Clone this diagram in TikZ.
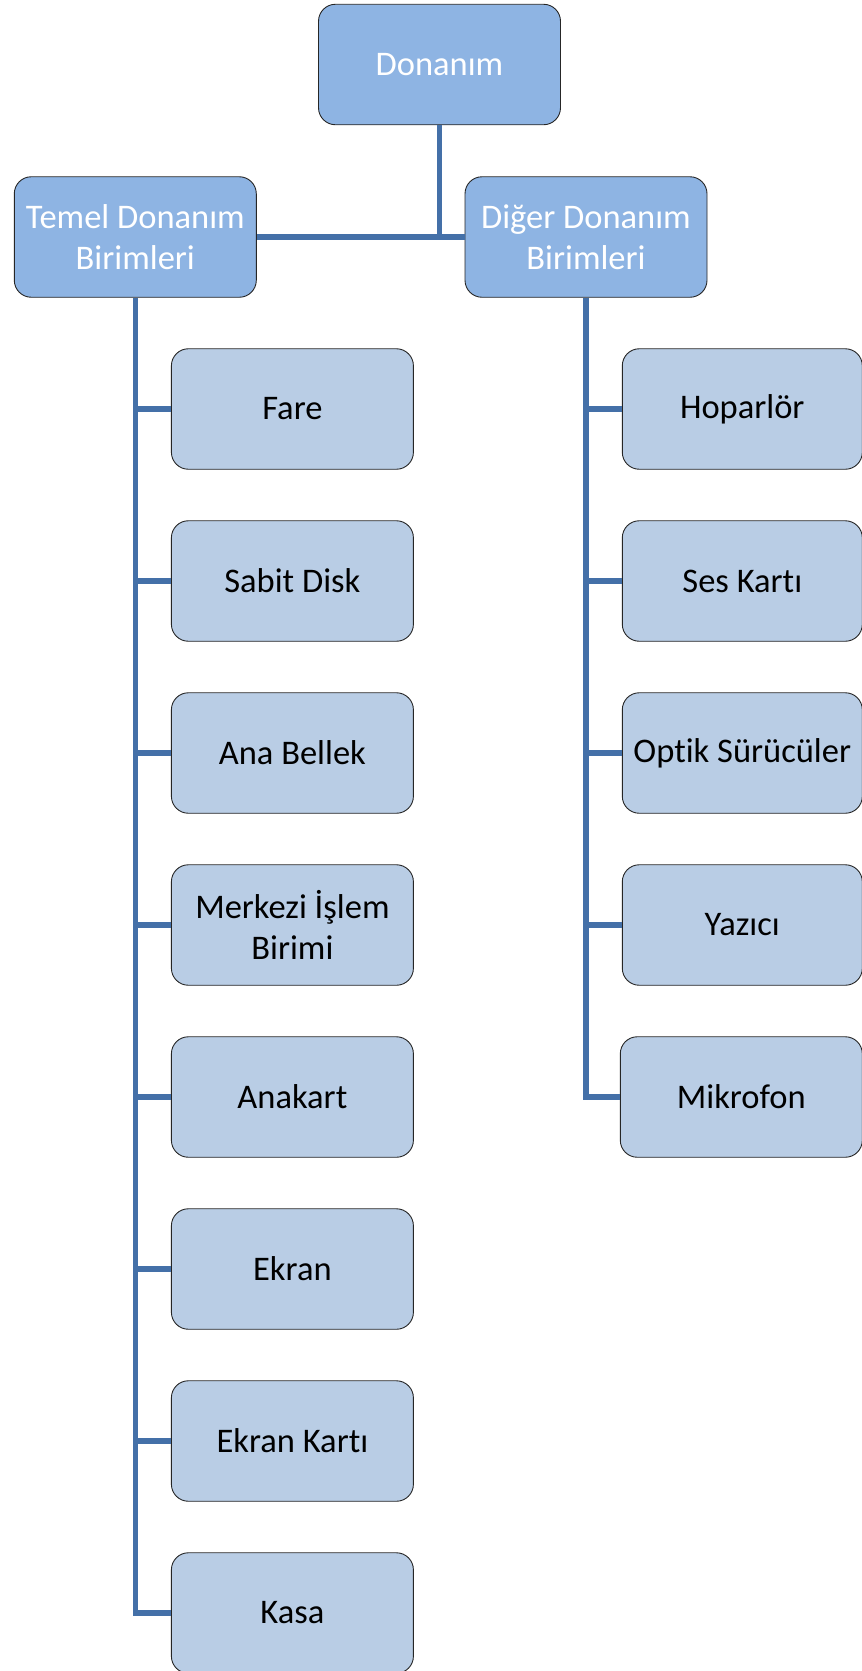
\documentclass[tikz,border=0pt]{standalone}
\usepackage{fontspec}
\setmainfont{Carlito}[Ligatures=NoCommon]
\definecolor{headfill}{HTML}{8EB4E3}
\definecolor{leaffill}{HTML}{B9CDE5}
\definecolor{linkblue}{HTML}{4470A8}

\begin{document}
\begin{tikzpicture}[x=1pt,y=1pt,
    box/.style={draw=black!85, line width=0.9pt, rounded corners=17pt,
        minimum width=242pt, minimum height=120.5pt, inner sep=0pt,
        align=center, font=\fontsize{34.5}{41}\selectfont},
    headbox/.style={box, fill=headfill, text=white},
    leafbox/.style={box, fill=leaffill, text=black},
    link/.style={draw=linkblue, line width=5.5pt}]
    \useasboundingbox (0,0) rectangle (862,-1671);
    % top levels
    \node [headbox] (donanim) at (439.5,-64.5) {Donanım};
    \node [headbox] (temel) at (135.3,-237) {Temel Donanım\\Birimleri};
    \node [headbox] (diger) at (586,-237) {Diğer Donanım\\Birimleri};
    % temel donanim birimleri
    \node [leafbox] (fare) at (292.4,-409) {Fare};
    \node [leafbox] (disk) at (292.4,-581) {Sabit Disk};
    \node [leafbox] (bellek) at (292.4,-753) {Ana Bellek};
    \node [leafbox] (cpu) at (292.4,-925) {Merkezi İşlem\\Birimi};
    \node [leafbox] (anakart) at (292.4,-1097) {Anakart};
    \node [leafbox] (ekran) at (292.4,-1269) {Ekran};
    \node [leafbox] (ekrankarti) at (292.4,-1441) {Ekran Kartı};
    \node [leafbox] (kasa) at (292.4,-1613) {Kasa};
    % diger donanim birimleri
    \node [leafbox, minimum width=240pt] (hoparlor) at (742.3,-409) {Hoparlör};
    \node [leafbox, minimum width=240pt] (seskarti) at (742.3,-581) {Ses Kartı};
    \node [leafbox, minimum width=240pt] (optik) at (742.3,-753) {Optik Sürücüler};
    \node [leafbox, minimum width=240pt] (yazici) at (742.3,-925) {Yazıcı};
    \node [leafbox, minimum width=242pt] (mikrofon) at (741.3,-1097) {Mikrofon};
    % connectors
    \draw [link] (donanim.south) -- (donanim.south |- temel.east);
    \draw [link] (temel.east) -- (diger.west);
    \draw [link] (temel.south) |- (kasa.west);
    \draw [link] (temel.south |- fare.west) -- (fare.west);
    \draw [link] (temel.south |- disk.west) -- (disk.west);
    \draw [link] (temel.south |- bellek.west) -- (bellek.west);
    \draw [link] (temel.south |- cpu.west) -- (cpu.west);
    \draw [link] (temel.south |- anakart.west) -- (anakart.west);
    \draw [link] (temel.south |- ekran.west) -- (ekran.west);
    \draw [link] (temel.south |- ekrankarti.west) -- (ekrankarti.west);
    \draw [link] (diger.south) |- (mikrofon.west);
    \draw [link] (diger.south |- hoparlor.west) -- (hoparlor.west);
    \draw [link] (diger.south |- seskarti.west) -- (seskarti.west);
    \draw [link] (diger.south |- optik.west) -- (optik.west);
    \draw [link] (diger.south |- yazici.west) -- (yazici.west);
\end{tikzpicture}
\end{document}
